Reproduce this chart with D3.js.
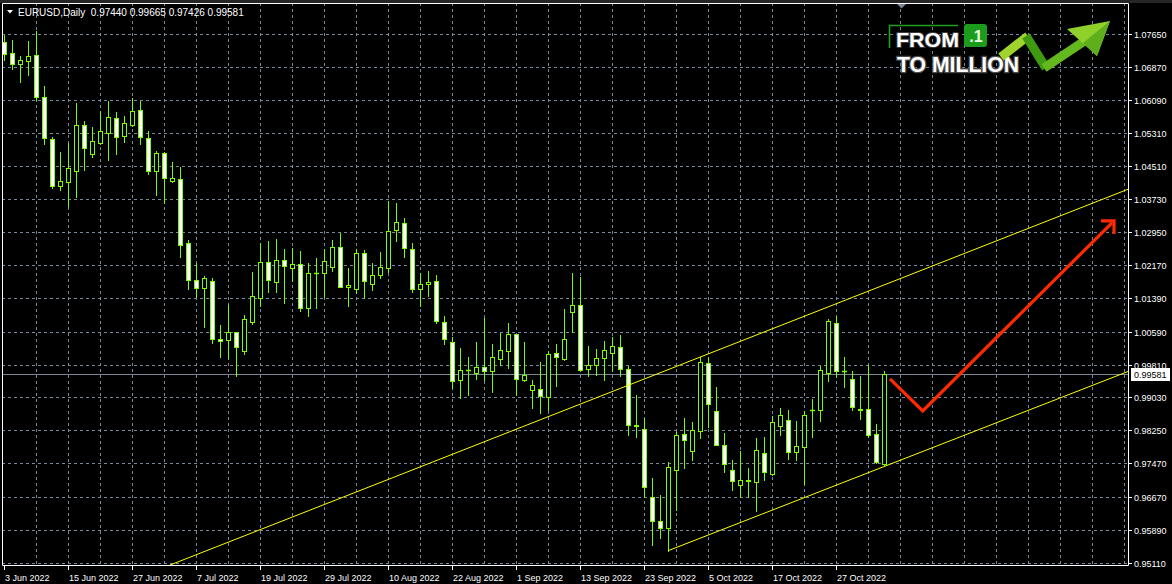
<!DOCTYPE html>
<html><head><meta charset="utf-8">
<script src="https://cdn.jsdelivr.net/npm/d3@7/dist/d3.min.js"></script>
<style>
html,body{margin:0;padding:0;background:#000;overflow:hidden;}
svg{display:block;}
text{font-family:"Liberation Sans",Arial,sans-serif;}
</style></head><body>
<svg id="chart" width="1172" height="584"></svg>
<script>
// ---------------- DATA ----------------
const symbolTitle = "EURUSD,Daily";
const firstDate = new Date(2022, 5, 3);

const open = [
1.0745,1.0719,1.0693,1.0702,1.0715,1.0615,1.0516,1.0405,1.0415,1.0441,
1.0549,1.0480,1.0507,1.0531,1.0565,1.0522,1.0549,1.0585,1.0518,1.0439,
1.0482,1.0417,1.0421,1.0269,1.0181,1.0162,1.0179,1.0041,1.0039,1.0059,
1.0012,1.0081,1.0140,1.0224,1.0176,1.0229,1.0209,1.0219,1.0114,1.0199,
1.0197,1.0213,1.0259,1.0165,1.0161,1.0245,1.0173,1.0194,1.0211,1.0300,
1.0316,1.0255,1.0159,1.0171,1.0179,1.0082,1.0034,0.9944,0.9968,0.9962,
0.9975,0.9965,0.9994,1.0013,1.0053,0.9944,0.9920,0.9923,0.9904,1.0008,
0.9994,1.0105,1.0122,0.9970,0.9980,0.9996,1.0008,1.0022,0.9970,0.9837,
0.9829,0.9668,0.9610,0.9594,0.9730,0.9816,0.9775,0.9823,0.9984,0.9870,
0.9790,0.9731,0.9695,0.9705,0.9702,0.9771,0.9721,0.9835,0.9849,0.9773,
0.9785,0.9873,0.9873,0.9961,1.0079,0.9965,0.9946,0.9875,0.9875,0.9816,
0.97440];
const high = [
1.0763,1.0751,1.0713,1.0748,1.0772,1.0642,1.0520,1.0486,1.0506,1.0601,
1.0559,1.0544,1.0583,1.0607,1.0580,1.0570,1.0613,1.0606,1.0535,1.0487,
1.0485,1.0462,1.0450,1.0277,1.0222,1.0191,1.0186,1.0075,1.0123,1.0059,
1.0099,1.0200,1.0269,1.0274,1.0278,1.0255,1.0257,1.0250,1.0222,1.0233,
1.0255,1.0276,1.0293,1.0210,1.0255,1.0252,1.0222,1.0247,1.0369,1.0364,
1.0329,1.0270,1.0198,1.0203,1.0194,1.0097,1.0046,1.0020,0.9999,1.0035,
1.0091,1.0030,1.0055,1.0079,1.0054,1.0035,0.9945,0.9987,1.0012,1.0030,
1.0112,1.0198,1.0188,1.0025,1.0018,1.0037,1.0046,1.0051,0.9978,0.9909,
0.9854,0.9711,0.9672,0.9751,0.9822,0.9854,0.9845,0.9999,0.9999,0.9928,
0.9819,0.9755,0.9777,0.9736,0.9807,0.9810,0.9858,0.9878,0.9874,0.9848,
0.9870,0.9900,0.9978,1.0089,1.0095,0.9999,0.9966,0.9953,0.9979,0.9840,
0.99665];
const low = [
1.0703,1.0682,1.0650,1.0668,1.0609,1.0504,1.0399,1.0395,1.0358,1.0379,
1.0443,1.0474,1.0504,1.0466,1.0481,1.0510,1.0547,1.0504,1.0433,1.0382,
1.0364,1.0414,1.0236,1.0161,1.0141,1.0071,1.0033,1.0000,0.9996,0.9953,
1.0007,1.0078,1.0119,1.0154,1.0152,1.0128,1.0178,1.0107,1.0095,1.0114,
1.0142,1.0204,1.0165,1.0120,1.0150,1.0138,1.0158,1.0186,1.0201,1.0274,
1.0237,1.0154,1.0120,1.0144,1.0079,1.0030,0.9925,0.9901,0.9909,0.9947,
0.9945,0.9915,0.9980,0.9972,0.9908,0.9941,0.9877,0.9866,0.9874,0.9931,
0.9992,1.0059,0.9966,0.9954,0.9957,0.9945,0.9965,0.9955,0.9813,0.9809,
0.9668,0.9553,0.9570,0.9538,0.9637,0.9736,0.9754,0.9807,0.9834,0.9789,
0.9725,0.9683,0.9668,0.9668,0.9633,0.9708,0.9720,0.9815,0.9757,0.9755,
0.9698,0.9808,0.9848,0.9942,0.9951,0.9927,0.9872,0.9853,0.9808,0.9747,
0.97426];
const close = [
1.0717,1.0695,1.0703,1.0714,1.0616,1.0518,1.0405,1.0416,1.0447,1.0549,
1.0494,1.0511,1.0534,1.0568,1.0520,1.0553,1.0583,1.0520,1.0439,1.0482,
1.0423,1.0423,1.0264,1.0181,1.0162,1.0186,1.0041,1.0037,1.0058,1.0022,
1.0089,1.0143,1.0224,1.0181,1.0229,1.0214,1.0219,1.0116,1.0198,1.0197,
1.0226,1.0259,1.0166,1.0170,1.0245,1.0178,1.0193,1.0212,1.0297,1.0319,
1.0258,1.0159,1.0172,1.0176,1.0085,1.0041,0.9942,0.9968,0.9967,0.9975,
0.9965,0.9998,1.0015,1.0053,0.9946,0.9956,0.9932,0.9906,1.0006,0.9999,
1.0041,1.0122,0.9968,0.9980,0.9996,1.0015,1.0025,0.9970,0.9837,0.9835,
0.9690,0.9610,0.9594,0.9738,0.9814,0.9802,0.9826,0.9987,0.9887,0.9791,
0.9744,0.9705,0.9707,0.9707,0.9778,0.9726,0.9845,0.9861,0.9773,0.9788,
0.9861,0.9874,0.9969,1.0084,0.9965,0.9966,0.9881,0.9873,0.9815,0.9751,
0.99581];

const priceTickLabels = ["1.07650","1.06870","1.06090","1.05310","1.04510","1.03730","1.02950","1.02170",
  "1.01390","1.00590","0.99810","0.99030","0.98250","0.97470","0.96670","0.95890","0.95110"];
const dateTickLabels = ["3 Jun 2022","15 Jun 2022","27 Jun 2022","7 Jul 2022","19 Jul 2022","29 Jul 2022",
  "10 Aug 2022","22 Aug 2022","1 Sep 2022","13 Sep 2022","23 Sep 2022","5 Oct 2022","17 Oct 2022","27 Oct 2022"];
const currentPrice = 0.99581;
// trend lines: [bar index, price]
const upperChannel = [[20.75, 0.95055], [140.5, 1.03967]];
const lowerChannel = [[83.0, 0.95394], [140.5, 0.99645]];
// forecast arrow path: [bar index, price]
const forecastArrow = [[110.75, 0.9947], [114.84, 0.9871], [138.5, 1.0317]];

// ---------------- LAYOUT ----------------
const W = 1172, H = 584;
const plot = {left: 2, top: 3, right: 1128, bottom: 565};
const barsVisible = 140;
const GREEN = "#7cfc00", GRID = "#778899";

// trading-day dates (Mon-Fri)
const dates = [];
for (let d = new Date(firstDate); dates.length < close.length; d = d3.timeDay.offset(d, 1)) {
  const wd = d.getDay();
  if (wd !== 0 && wd !== 6) dates.push(new Date(d));
}
const fmt = d3.timeFormat("%-d %b %Y");

const x = d3.scaleLinear().domain([0, barsVisible]).range([4, 1124]);
const y = d3.scaleLinear().domain([0.95110, 1.07650]).range([562.7, 34]);
const px = v => Math.round(x(v)) + 0.5;
const py = v => Math.round(y(v)) + 0.5;

const svg = d3.select("#chart");
svg.append("rect").attr("width", W).attr("height", H).attr("fill", "#000");
svg.append("rect").attr("width", W).attr("height", 3).attr("fill", "#262626");

svg.append("defs").append("clipPath").attr("id", "clip")
  .append("rect").attr("x", plot.left).attr("y", plot.top)
  .attr("width", plot.right - plot.left).attr("height", plot.bottom - plot.top);

const grid = svg.append("g").attr("stroke", GRID).attr("stroke-width", 1).attr("stroke-dasharray", "3,3");
priceTickLabels.forEach(t => {
  grid.append("line").attr("x1", plot.left).attr("x2", plot.right)
    .attr("y1", py(+t)).attr("y2", py(+t));
});
d3.range(4, barsVisible + 1, 4).forEach(i => {
  grid.append("line").attr("x1", px(i)).attr("x2", px(i))
    .attr("y1", plot.top).attr("y2", plot.bottom);
});

// current price line
svg.append("line").attr("x1", plot.left).attr("x2", plot.right)
  .attr("y1", py(currentPrice)).attr("y2", py(currentPrice))
  .attr("stroke", GRID).attr("stroke-width", 1);

// ---------------- LOGO ----------------
const logo = svg.append("g");
logo.append("path").attr("d", "M889.5,48 V25.5 H958").attr("fill", "none")
  .attr("stroke", "#1f9e1f").attr("stroke-width", 1.6);
logo.append("text").attr("x", 896).attr("y", 46.5).text("FROM")
  .attr("textLength", 63).attr("lengthAdjust", "spacingAndGlyphs")
  .style("font-size", "21px").style("font-weight", "bold")
  .attr("fill", "#fff").attr("stroke", "#3a3a3a").attr("stroke-width", 2).attr("paint-order", "stroke");
logo.append("text").attr("x", 897).attr("y", 71.5).text("TO MILLION")
  .attr("textLength", 122).attr("lengthAdjust", "spacingAndGlyphs")
  .style("font-size", "22px").style("font-weight", "bold")
  .attr("fill", "#fff").attr("stroke", "#4a4a4a").attr("stroke-width", 2.6).attr("paint-order", "stroke");
logo.append("rect").attr("x", 964).attr("y", 24).attr("width", 23).attr("height", 23).attr("rx", 3)
  .attr("fill", "#1c9c1c");
logo.append("text").attr("x", 976).attr("y", 42).attr("text-anchor", "middle").text(".1")
  .style("font-size", "16px").style("font-weight", "bold").attr("fill", "#e8ffe0");
const arrowG = logo.append("g").attr("fill", "none").attr("stroke-linejoin", "miter");
arrowG.append("path").attr("d", "M1001,57 L1028,36").attr("stroke", "#9ed42c").attr("stroke-width", 9);
arrowG.append("path").attr("d", "M1026,36 L1046,68").attr("stroke", "#3f9a12").attr("stroke-width", 9);
arrowG.append("path").attr("d", "M1044,68 L1083,42").attr("stroke", "#62b81c").attr("stroke-width", 9);
logo.append("path").attr("d", "M1067,29 L1110,21 L1097,56 Z").attr("fill", "#8fd12a");
logo.append("path").attr("d", "M1083,43 L1110,21 L1097,56 Z").attr("fill", "#5fae1b");

// ---------------- CANDLES ----------------
const chart = svg.append("g").attr("clip-path", "url(#clip)");
const candles = chart.selectAll("g.c").data(close.map((c, i) => ({i, o: open[i], h: high[i], l: low[i], c})))
  .join("g").attr("class", "c");
candles.append("line")
  .attr("x1", d => px(d.i)).attr("x2", d => px(d.i))
  .attr("y1", d => Math.round(y(d.h))).attr("y2", d => Math.round(y(d.l)) + 1)
  .attr("stroke", GREEN).attr("stroke-width", 1);
candles.each(function(d) {
  const g = d3.select(this);
  const top = py(Math.max(d.o, d.c)), bot = py(Math.min(d.o, d.c));
  const cx = px(d.i);
  if (bot - top < 1) {
    g.append("line").attr("x1", cx - 2.5).attr("x2", cx + 2.5).attr("y1", top).attr("y2", top)
      .attr("stroke", GREEN).attr("stroke-width", 1.5);
  } else {
    g.append("rect").attr("x", cx - 2).attr("y", top).attr("width", 4).attr("height", bot - top)
      .attr("fill", d.c < d.o ? "#fff" : "#000").attr("stroke", GREEN).attr("stroke-width", 1);
  }
});

// trend lines (rays to the right)
const extend = (pts) => {
  const [[b1, p1], [b2, p2]] = pts;
  const s = (p2 - p1) / (b2 - b1);
  return [[b1, p1], [barsVisible + 10, p1 + s * (barsVisible + 10 - b1)]];
};
const lineGen = d3.line().x(d => x(d[0])).y(d => y(d[1]));
[upperChannel, lowerChannel].forEach(l => {
  chart.append("path").attr("d", lineGen(extend(l))).attr("fill", "none")
    .attr("stroke", "#ffff00").attr("stroke-width", 1);
});

// forecast arrow
chart.append("path").attr("d", lineGen(forecastArrow)).attr("fill", "none")
  .attr("stroke", "#ff2a00").attr("stroke-width", 3.2).attr("stroke-linejoin", "miter");
{
  const a = forecastArrow[forecastArrow.length - 2], b = forecastArrow[forecastArrow.length - 1];
  const tx = x(b[0]) + 2, ty = y(b[1]) - 2;
  const ang = Math.atan2(y(b[1]) - y(a[1]), x(b[0]) - x(a[0]));
  const L = 13;
  const p1 = [tx - L * Math.cos(ang - Math.PI / 4), ty - L * Math.sin(ang - Math.PI / 4)];
  const p2 = [tx - L * Math.cos(ang + Math.PI / 4), ty - L * Math.sin(ang + Math.PI / 4)];
  chart.append("path").attr("d", `M${p1[0]},${p1[1]} L${tx},${ty} L${p2[0]},${p2[1]}`)
    .attr("fill", "none").attr("stroke", "#ff2a00").attr("stroke-width", 3.2).attr("stroke-linejoin", "miter");
}

// shift marker
svg.append("path").attr("d", "M897,4 L906,4 L901.5,8.5 Z").attr("fill", GRID);

// ---------------- FRAME & AXES ----------------
svg.append("path").attr("d", `M${plot.left + 0.5},${plot.top + 0.5} H${plot.right + 0.5} V${plot.bottom + 0.5} H${plot.left + 0.5} Z`)
  .attr("fill", "none").attr("stroke", "#fff").attr("stroke-width", 1);

const axR = svg.append("g");
priceTickLabels.forEach(t => {
  axR.append("line").attr("x1", plot.right).attr("x2", plot.right + 4)
    .attr("y1", py(+t)).attr("y2", py(+t)).attr("stroke", "#fff");
  axR.append("text").attr("x", 1134).attr("y", Math.round(y(+t)) + 4).text(t)
    .attr("fill", "#fff").style("font-size", "9px");
});

const axB = svg.append("g");
dateTickLabels.forEach(lbl => {
  const i = dates.findIndex(d => fmt(d) === lbl);
  if (i < 0) return;
  axB.append("line").attr("x1", px(i)).attr("x2", px(i)).attr("y1", plot.bottom).attr("y2", plot.bottom + 5)
    .attr("stroke", "#fff");
  axB.append("text").attr("x", Math.round(x(i)) + 1).attr("y", 581).text(lbl)
    .attr("fill", "#fff").style("font-size", "9px");
});

// current price label
{
  const cy = Math.round(y(currentPrice));
  svg.append("rect").attr("x", 1131).attr("y", cy - 6).attr("width", 39).attr("height", 13).attr("fill", "#fff");
  svg.append("text").attr("x", 1134).attr("y", cy + 4).text(currentPrice.toFixed(5))
    .attr("fill", "#000").style("font-size", "9px");
}

// header
svg.append("path").attr("d", "M7,10 L13,10 L10,13.5 Z").attr("fill", "#fff");
svg.append("text").attr("x", 18).attr("y", 15.5)
  .text(`${symbolTitle}  ${open[open.length-1].toFixed(5)} ${high[high.length-1].toFixed(5)} ${low[low.length-1].toFixed(5)} ${close[close.length-1].toFixed(5)}`)
  .attr("fill", "#fff").style("font-size", "10px").attr("xml:space", "preserve");
</script>
</body></html>
